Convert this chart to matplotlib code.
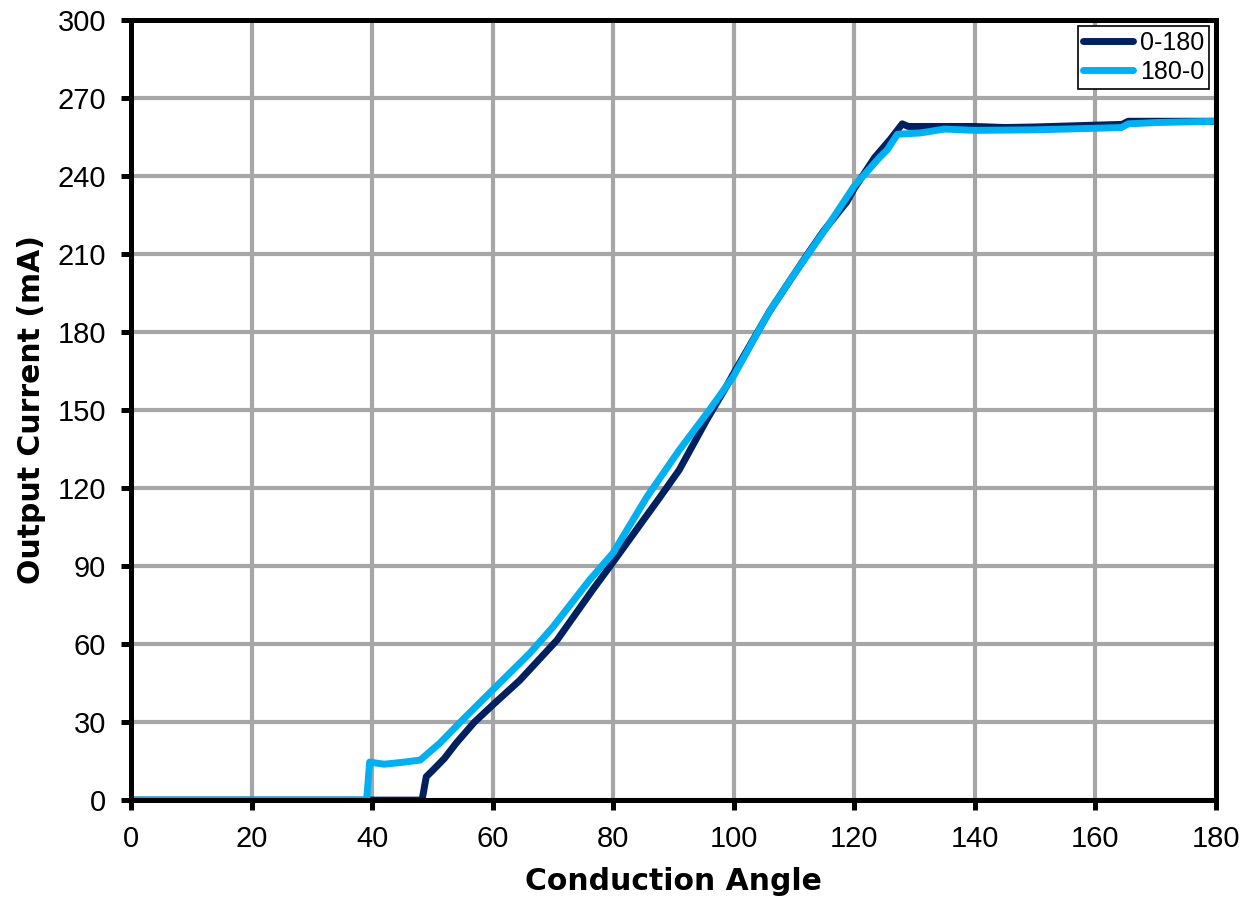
import numpy as np
import matplotlib.pyplot as plt

# sweep 0 -> 180 degrees
angle_up = [0, 10, 20, 30, 40, 45, 48.3, 49, 50.1, 52, 54, 57, 60, 64.5, 70.7, 76.6,
            80, 87.8, 91, 95.5, 98.8, 100, 105, 106, 110, 112.6, 115, 118.8, 120,
            123.4, 126, 128, 129, 135, 140, 145, 150, 160, 164.5, 165.5, 170, 180]
current_up = [0, 0, 0, 0, 0, 0, 0, 9, 11.5, 16, 22, 30, 36.5, 46, 61.5, 80.8,
              91.5, 116.5, 127, 146, 159, 164, 184, 188, 202, 211, 219, 230, 235,
              247, 254, 260, 259, 259, 259, 258.6, 258.8, 259.5, 259.8, 261, 261, 261]

# sweep 180 -> 0 degrees
angle_down = [0, 10, 20, 30, 39.1, 39.6, 42, 45, 48, 51.3, 55, 60, 66.2, 70, 76.1,
              80, 85.6, 91, 96, 100, 105, 106, 110, 116, 120, 124.2, 125.5, 127.2,
              131, 135, 140, 150, 160, 164.4, 165.5, 170, 180]
current_down = [0, 0, 0, 0, 0, 14.6, 13.8, 14.5, 15.4, 22, 30.8, 42.3, 56.5, 66.5, 84.6,
                95, 116.5, 134.6, 150, 163, 184, 188, 202, 222, 236, 247, 250, 256,
                256.5, 258, 257.5, 257.7, 258.3, 258.6, 260, 260.5, 261]

fig = plt.figure(figsize=(12.48, 9.01), dpi=100)
ax = fig.add_axes([0.105, 0.112, 0.869, 0.866])

ax.plot(angle_up, current_up, color='#002060', lw=5, label='0-180', zorder=3)
ax.plot(angle_down, current_down, color='#00b0f0', lw=5, label='180-0', zorder=4)

ax.set_xlim(0, 180)
ax.set_ylim(0, 300)
ax.set_xticks(np.arange(0, 181, 20))
ax.set_yticks(np.arange(0, 301, 30))
ax.grid(True, color='#a6a6a6', lw=3)
ax.set_axisbelow(True)

for s in ax.spines.values():
    s.set_linewidth(3.6)
    s.set_color('black')
    s.set_zorder(5)

ax.tick_params(axis='both', direction='out', length=7, width=3.6, pad=11)
for lbl in ax.get_xticklabels() + ax.get_yticklabels():
    lbl.set_fontfamily('Liberation Sans')
    lbl.set_fontsize(21)

ax.set_xlabel('Conduction Angle', fontsize=21.5, fontweight='bold')
ax.set_ylabel('Output Current (mA)', fontsize=21.5, fontweight='bold')
ax.xaxis.set_label_coords(0.5, -0.086)
ax.yaxis.set_label_coords(-0.078, 0.5)

leg = ax.legend(loc='upper right', prop={'family': 'Liberation Sans', 'size': 18},
                fancybox=False, framealpha=1, edgecolor='black', borderpad=0.2,
                handlelength=2.0, handletextpad=0.3, labelspacing=0.2,
                borderaxespad=0.25)
leg.get_frame().set_linewidth(1.2)
for h in leg.get_lines():
    h.set_solid_capstyle('round')

fig.savefig('out.png', dpi=100)
